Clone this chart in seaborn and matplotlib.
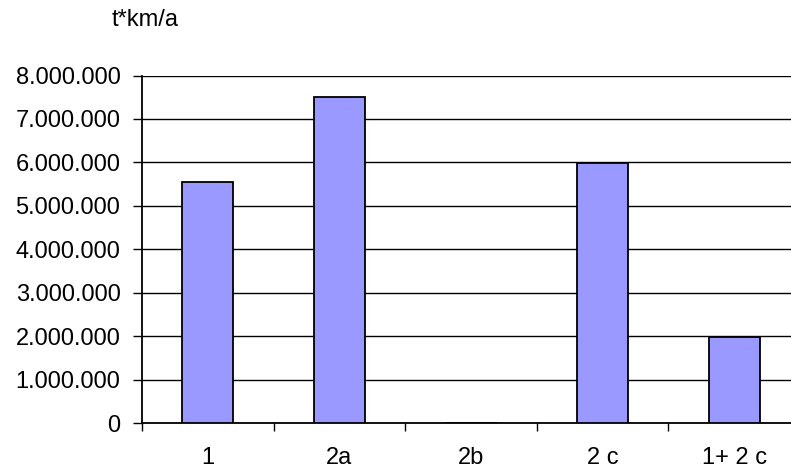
import matplotlib
matplotlib.use("Agg")
import matplotlib.pyplot as plt
import matplotlib.ticker as mticker
import seaborn as sns
import pandas as pd

categories = ["1", "2a", "2b", "2 c", "1+ 2 c"]
values = [5550000, 7500000, 0, 5990000, 1990000]
unit_label = "t*km/a"
y_ticks = [0, 1000000, 2000000, 3000000, 4000000, 5000000, 6000000, 7000000, 8000000]

sns.set_style("white")
plt.rcParams['font.family'] = ['Liberation Sans', 'DejaVu Sans']
plt.rcParams['text.color'] = 'black'
plt.rcParams['xtick.color'] = 'black'
plt.rcParams['ytick.color'] = 'black'

df = pd.DataFrame({"cat": categories, "val": values})

fig = plt.figure(figsize=(7.91, 4.71), dpi=100)
ax = fig.add_axes([142/791, 48/471, 658/791, 347.5/471])

sns.barplot(data=df, x="cat", y="val", color="#9999FF", saturation=1,
            width=0.39, edgecolor="black", linewidth=1.3, ax=ax, zorder=3)

ax.set_ylim(0, 8000000)
ax.set_xlim(-0.5, 4.5)
ax.set_yticks(y_ticks)
ax.yaxis.set_major_formatter(mticker.FuncFormatter(lambda v, p: f"{int(v):,}".replace(",", ".")))
ax.yaxis.grid(True, color="black", linewidth=1.0, zorder=0)
ax.set_axisbelow(True)

ax.set_xticks(range(len(categories)))
ax.set_xticklabels(categories)
ax.set_xticks([i - 0.5 for i in range(len(categories))], minor=True)
ax.tick_params(axis="x", which="major", length=0, pad=17, labelsize=17, labelcolor="black")
ax.tick_params(axis="x", which="minor", length=6, width=1, color="black", direction="out", bottom=True)
ax.tick_params(axis="y", which="major", length=6.5, width=1, color="black", direction="out", left=True, pad=9, labelsize=17, labelcolor="black")

for s in ["top", "right"]:
    ax.spines[s].set_visible(False)
for s in ["left", "bottom"]:
    ax.spines[s].set_color("black")
    ax.spines[s].set_linewidth(1.3)

ax.set_xlabel("")
ax.set_ylabel("")
fig.text(145/791, 1 - 20/471, unit_label, ha="center", va="center", fontsize=17, color="black")

fig.savefig("out.png", dpi=100)
